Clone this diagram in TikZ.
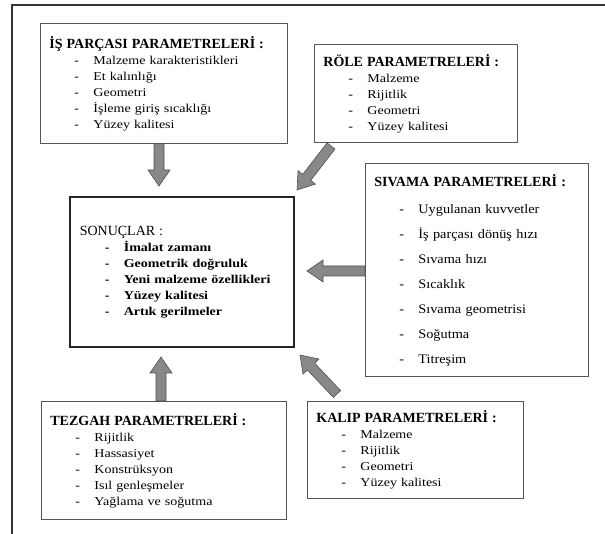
\documentclass[tikz,border=0pt]{standalone}
\usepackage{fontspec}
\setmainfont{Liberation Serif}
\newfontfamily\maddefont{Liberation Serif}[FakeStretch=1.17]
\newfontfamily\sivamafont{Liberation Serif}[FakeStretch=1.1]
\usetikzlibrary{calc}

\definecolor{kutugri}{RGB}{85,85,85}
\definecolor{okgri}{RGB}{136,136,136}
\definecolor{okkenar}{RGB}{80,80,80}

\newcommand{\baslik}[1]{{\rmfamily\fontsize{14}{16}\selectfont #1}}
\newcommand{\madde}[1]{\hspace*{25pt}\makebox[19pt][l]{-}#1}
% block arrow from #1 to #2
\newcommand{\blokok}[2]{%
  \coordinate (ok-h) at ($(#2)!16pt!(#1)$);
  \draw[okstil] ($(#1)!5pt!90:(#2)$) -- ($(ok-h)!5pt!90:(#2)$)
    -- ($(ok-h)!11pt!90:(#2)$) -- (#2) -- ($(ok-h)!11pt!-90:(#2)$)
    -- ($(ok-h)!5pt!-90:(#2)$) -- ($(#1)!5pt!-90:(#2)$) -- cycle;}

\begin{document}
\begin{tikzpicture}[x=1pt, y=-1pt,
    kutu/.style={draw=kutugri, line width=0.8pt, fill=white, anchor=north west,
      align=left, inner xsep=9pt, font=\maddefont\fontsize{12}{16}\selectfont},
    okstil/.style={fill=okgri, draw=okkenar, line width=0.6pt, line join=miter}]
  \useasboundingbox (0,0) rectangle (605,534);

  % Frame
  \draw[line width=1.2pt, black!80] (12,534) -- (12,5) -- (605,5);

  % Boxes
  \node[kutu, text width=229pt, minimum height=120pt] (is) at (40,23)
    {\baslik{\textbf{İŞ PARÇASI PARAMETRELERİ :}}\\
     \madde{Malzeme karakteristikleri}\\
     \madde{Et kalınlığı}\\
     \madde{Geometri}\\
     \madde{İşleme giriş sıcaklığı}\\
     \madde{Yüzey kalitesi}};
  \node[kutu, text width=185pt, minimum height=98pt] (role) at (314,44)
    {\baslik{\textbf{RÖLE PARAMETRELERİ :}}\\
     \madde{Malzeme}\\
     \madde{Rijitlik}\\
     \madde{Geometri}\\
     \madde{Yüzey kalitesi}};
  \node[kutu, text width=205pt, minimum height=213pt,
        font=\sivamafont\fontsize{13}{25}\selectfont] (sivama) at (365,163)
    {\baslik{\textbf{SIVAMA PARAMETRELERİ :}}\\[2pt]
     \madde{Uygulanan kuvvetler}\\
     \madde{İş parçası dönüş hızı}\\
     \madde{Sıvama hızı}\\
     \madde{Sıcaklık}\\
     \madde{Sıvama geometrisi}\\
     \madde{Soğutma}\\
     \madde{Titreşim}};
  \node[kutu, draw=black!85, line width=1.6pt, text width=204pt,
        minimum height=150pt, inner xsep=10pt] (sonuc) at (69,196)
    {\baslik{SONUÇLAR :}\\
     \bfseries\madde{İmalat zamanı}\\
     \bfseries\madde{Geometrik doğruluk}\\
     \bfseries\madde{Yeni malzeme özellikleri}\\
     \bfseries\madde{Yüzey kalitesi}\\
     \bfseries\madde{Artık gerilmeler}};
  \node[kutu, text width=227pt, minimum height=118pt] (tezgah) at (41,401)
    {\baslik{\textbf{TEZGAH PARAMETRELERİ :}}\\
     \madde{Rijitlik}\\
     \madde{Hassasiyet}\\
     \madde{Konstrüksyon}\\
     \madde{Isıl genleşmeler}\\
     \madde{Yağlama ve soğutma}};
  \node[kutu, text width=198pt, minimum height=97pt] (kalip) at (307,401)
    {\baslik{\textbf{KALIP PARAMETRELERİ :}}\\
     \madde{Malzeme}\\
     \madde{Rijitlik}\\
     \madde{Geometri}\\
     \madde{Yüzey kalitesi}};

  % Arrow tips
  \coordinate (u1) at (159,186);
  \coordinate (u2) at (297,190);
  \coordinate (u3) at (307,271);
  \coordinate (u4) at (161,357);
  \coordinate (u5) at (300,355);

  % Arrows
  \blokok{is.south -| u1}{u1}
  \blokok{331,146}{u2}
  \blokok{sivama.west |- u3}{u3}
  \blokok{tezgah.north -| u4}{u4}
  \blokok{337,394}{u5}
\end{tikzpicture}
\end{document}
